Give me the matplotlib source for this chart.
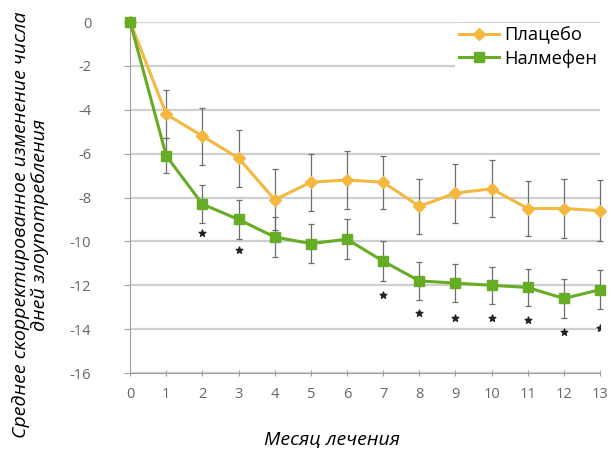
import numpy as np
from matplotlib import pyplot as plt
from matplotlib.lines import Line2D

months = list(range(14))
placebo = [0, -4.2, -5.2, -6.2, -8.1, -7.3, -7.2, -7.3, -8.4, -7.8, -7.6, -8.5, -8.5, -8.6]
placebo_err = [0, 1.1, 1.3, 1.3, 1.4, 1.3, 1.3, 1.2, 1.25, 1.35, 1.3, 1.25, 1.35, 1.4]
nalmefene = [0, -6.1, -8.3, -9.0, -9.8, -10.1, -9.9, -10.9, -11.8, -11.9, -12.0, -12.1, -12.6, -12.2]
nalmefene_err = [0, 0.8, 0.85, 0.9, 0.9, 0.9, 0.9, 0.9, 0.85, 0.85, 0.85, 0.85, 0.9, 0.9]
star_months = [2, 3, 7, 8, 9, 10, 11, 12, 13]
star_y = [-9.6, -10.4, -12.45, -13.25, -13.5, -13.5, -13.6, -14.15, -13.95]
yticks = list(range(0, -17, -2))

orange = '#f4b740'
green = '#66ac25'
gray = '#a0a0a0'

plt.rcParams['font.family'] = ['Open Sans', 'DejaVu Sans']
plt.rcParams['axes.unicode_minus'] = False

fig = plt.figure(figsize=(6.11, 4.5), dpi=100)
ax = fig.add_axes([0.213, 0.171, 0.769, 0.78])

for y in yticks:
    ax.axhline(y, color='#cfcfcf', lw=1.6, zorder=0)

ax.errorbar(months, placebo, yerr=placebo_err, errorevery=(1, 1), color=orange,
            ecolor='#6e6e6e', elinewidth=0.9, capsize=2, capthick=0.9, lw=2.2,
            marker='D', ms=6, zorder=3, clip_on=False)
ax.errorbar(months, nalmefene, yerr=nalmefene_err, errorevery=(1, 1), color=green,
            ecolor='#6e6e6e', elinewidth=0.9, capsize=2, capthick=0.9, lw=2.2,
            marker='s', ms=7, zorder=4, clip_on=False)
ax.scatter(star_months, star_y, marker='*', s=25, color='#222222', zorder=5)

ax.set_xlim(0, 13)
ax.set_ylim(-16, 0)
ax.set_xticks(months)
ax.set_yticks(yticks)
ax.tick_params(axis='both', colors=gray, labelcolor='#666666', labelsize=10.5)
ax.tick_params(axis='y', length=4, pad=24)
ax.tick_params(axis='x', length=4, direction='inout', pad=8)
for side in ['top', 'right']:
    ax.spines[side].set_visible(False)
ax.spines['left'].set_color(gray)
ax.spines['bottom'].set_color(gray)

fig.text(0.543, 0.022, 'Месяц лечения', style='italic', fontsize=14,
         ha='center', va='center')
fig.text(0.050, 0.5, 'Среднее скорректированное изменение числа\nдней злоупотребления',
         style='italic', fontsize=14, rotation=90, ha='center', va='center',
         multialignment='center', linespacing=1.1)

handles = [Line2D([], [], color=orange, lw=2.2, marker='D', ms=6),
           Line2D([], [], color=green, lw=2.2, marker='s', ms=7)]
leg = ax.legend(handles, ['Плацебо', 'Налмефен'], loc='upper left',
                bbox_to_anchor=(455 / 611, 1 - 23 / 450), bbox_transform=fig.transFigure,
                frameon=True, fontsize=13.2, handlelength=2.2, handletextpad=0.3,
                labelspacing=0.25, borderpad=0.2, borderaxespad=0)
leg.get_frame().set_edgecolor('none')
leg.get_frame().set_alpha(1)
leg.set_zorder(6)

fig.savefig('out.png', dpi=100)
